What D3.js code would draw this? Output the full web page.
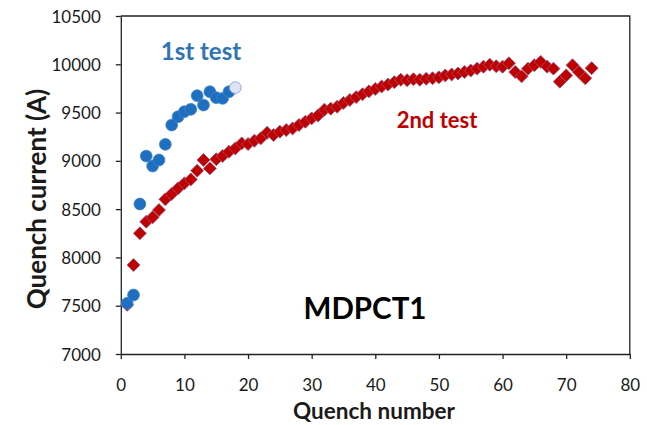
<!DOCTYPE html>
<html>
<head>
<meta charset="utf-8">
<script src="https://cdn.jsdelivr.net/npm/d3@7"></script>
<style>
  body { margin: 0; background: #fff; }
  svg { display: block; font-family: Lato, "Open Sans", sans-serif; }
</style>
</head>
<body>
<div id="chart"></div>
<script>
// quench data
var test1Quench  = [1,2,3,4,5,6,7,8,9,10,11,12,13,14,15,16,17,18];
var test1Current = [7525,7611,8553,9050,8947,9009,9171,9371,9457,9509,9534,9675,9578,9716,9654,9647,9716,9758];

var test2Quench = d3.range(1, 75);   // quench 1..74
var test2Current = [7510,7921,8250,8370,8415,8491,8602,8657,8716,8767,
                    8808,8898,9009,8922,9016,9050,9094,9129,9181,9174,
                    9209,9233,9291,9268,9302,9319,9336,9371,9405,9440,
                    9470,9530,9540,9560,9600,9630,9660,9690,9720,9745,
                    9770,9790,9815,9840,9835,9845,9840,9850,9855,9865,
                    9885,9895,9905,9920,9935,9955,9975,9995,9980,9975,
                    10010,9920,9875,9955,9990,10025,9975,9955,9820,9885,
                    9990,9920,9855,9960];

var xTicks = [0,10,20,30,40,50,60,70,80];
var yTicks = [7000,7500,8000,8500,9000,9500,10000,10500];

var width = 647, height = 425;
// plot box (note: "top" is reserved on window, so prefix these)
var plotLeft = 120.8, plotRight = 629.8, plotTop = 16, plotBottom = 354;

var svg = d3.select("#chart").append("svg")
    .attr("width", width)
    .attr("height", height);

var x = d3.scaleLinear().domain([0, 80]).range([plotLeft, plotRight]);
var y = d3.scaleLinear().domain([7000, 10500]).range([plotBottom, plotTop]);

// frame (top + right), axes draw the other two sides
svg.append("path")
    .attr("d", "M" + plotLeft + "," + plotTop + "H" + plotRight + "V" + plotBottom)
    .attr("fill", "none")
    .attr("stroke", "#222")
    .attr("stroke-width", 1.3);

var xAxis = svg.append("g")
    .attr("transform", "translate(0," + plotBottom + ")")
    .call(d3.axisBottom(x).tickValues(xTicks).tickSize(5).tickSizeOuter(0).tickPadding(20));
var yAxis = svg.append("g")
    .attr("transform", "translate(" + plotLeft + ",0)")
    .call(d3.axisLeft(y).tickValues(yTicks).tickFormat(d3.format("d")).tickSize(5).tickSizeOuter(0).tickPadding(15));

[xAxis, yAxis].forEach(function(g){
    g.select(".domain").attr("stroke", "#222").attr("stroke-width", 1.3);
    g.selectAll(".tick line").attr("stroke", "#222").attr("stroke-width", 1.3);
    g.selectAll(".tick text")
        .attr("fill", "#1a1a1a")
        .style("font-size", "17px")
        .style("font-family", "Lato, sans-serif");
});
yAxis.selectAll(".tick text").attr("dy", "0.36em");

// 2nd test: red diamonds (drawn first, sits under the blue)
var diamond = d3.symbol().type(d3.symbolSquare).size(84);
svg.append("g").selectAll("path")
    .data(test2Quench)
    .enter()
    .append("path")
    .attr("d", diamond)
    .attr("transform", function(d, i){
        return "translate(" + x(d) + "," + y(test2Current[i]) + ") rotate(45)";
    })
    .attr("fill", "#c00000")
    .attr("stroke", "#9a5577")
    .attr("stroke-width", 0.8);

// 1st test: blue circles, last one is pale
svg.append("g").selectAll("circle")
    .data(test1Quench)
    .enter()
    .append("circle")
    .attr("cx", function(d){ return x(d); })
    .attr("cy", function(d, i){ return y(test1Current[i]); })
    .attr("r", 5.9)
    .attr("fill", function(d, i){ return i == test1Quench.length - 1 ? "#dde3f3" : "#1f6fc0"; })
    .attr("stroke", function(d, i){ return i == test1Quench.length - 1 ? "#7e9bd0" : "#3d82c8"; })
    .attr("stroke-width", 0.8);

// labels
svg.append("text")
    .attr("x", 201).attr("y", 60)
    .attr("text-anchor", "middle")
    .attr("fill", "#2e75b6")
    .style("font-weight", "bold").style("font-size", "24px")
    .text("1st test");

svg.append("text")
    .attr("x", 437).attr("y", 128)
    .attr("text-anchor", "middle")
    .attr("fill", "#c00000")
    .style("font-weight", "bold").style("font-size", "22px")
    .text("2nd test");

svg.append("text")
    .attr("x", 365).attr("y", 319)
    .attr("text-anchor", "middle")
    .attr("fill", "#000")
    .style("font-weight", "bold").style("font-size", "29.5px")
    .text("MDPCT1");

// axis titles
svg.append("text")
    .attr("x", 374).attr("y", 419)
    .attr("text-anchor", "middle")
    .attr("fill", "#1a1a1a")
    .style("font-weight", "bold").style("font-size", "22.5px")
    .text("Quench number");

svg.append("text")
    .attr("transform", "translate(46,199) rotate(-90)")
    .attr("text-anchor", "middle")
    .attr("fill", "#1a1a1a")
    .style("font-weight", "bold").style("font-size", "26px")
    .text("Quench current (A)");
</script>
</body>
</html>
